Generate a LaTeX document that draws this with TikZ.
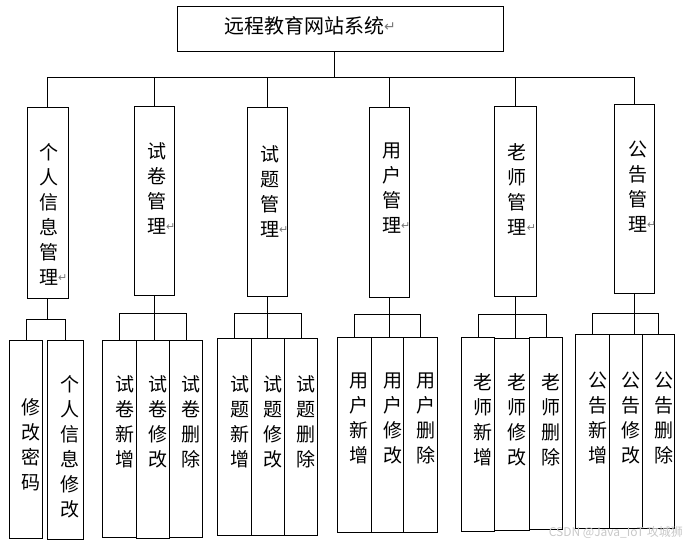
\documentclass[tikz,border=0pt]{standalone}
\usepackage{fontspec}
\usepackage{xcolor}
\usepackage{tikz}
\usetikzlibrary{calc}
\setmainfont{Noto Sans CJK SC}
\newfontfamily\symfont{DejaVu Sans}
\definecolor{retgray}{RGB}{120,120,120}
\definecolor{markgray}{RGB}{200,200,200}
\newcommand\retmark[2]{\raisebox{#2pt}{\symfont\fontsize{#1}{#1}\selectfont\color{retgray}\char"21B5}}

\begin{document}
\begin{tikzpicture}[x=1pt, y=-1pt,
  box/.style={draw, line width=1pt, inner sep=0pt},
  conn/.style={line width=1pt},
  vtext/.style={font=\fontsize{19}{25}\selectfont, align=center, anchor=north, inner sep=0pt}]
% Module tree of the site: root box, six module columns, leaf columns.
% Coordinates are pixels of the sketch, y runs downwards.
% \blk{name}{x}{y}{w}{h}{text dx}{text dy}{text}
\def\blk#1#2#3#4#5#6#7#8{%
  \node[box, anchor=north west, minimum width=#4pt, minimum height=#5pt] (#1) at (#2,#3) {};
  \node[vtext] (#1t) at ([xshift=#6pt, yshift=-#7pt]#1.north) {#8};}
\useasboundingbox (0,0) rectangle (686,549);
% Root
\node[box, anchor=north west, minimum width=325.4pt, minimum height=45pt] (root) at (177.3,6) {};
\node[font=\fontsize{20}{20}\selectfont, anchor=west, inner sep=0pt] (title) at (224,26)
  {远程教育网站系统\retmark{14}{2}};
% Modules
\blk{m1}{26.7}{107}{41}{191}{1}{36}{个\\人\\信\\息\\管\\理\rlap{\retmark{11}{3}}}
\blk{m2}{134}{106}{40}{189}{2}{36}{试\\卷\\管\\理\rlap{\retmark{11}{3}}}
\blk{m3}{247}{107}{40}{189}{2}{38}{试\\题\\管\\理\rlap{\retmark{11}{3}}}
\blk{m4}{369.3}{107}{39.4}{190}{2}{36}{用\\户\\管\\理\rlap{\retmark{11}{3}}}
\blk{m5}{494.3}{106}{42}{190}{1.5}{37}{老\\师\\管\\理\rlap{\retmark{11}{3}}}
\blk{m6}{614.3}{104}{40}{189}{2.7}{37}{公\\告\\管\\理\rlap{\retmark{11}{3}}}
% Leaves
\blk{m1a}{9.3}{340}{32.4}{198}{4.5}{58}{修\\改\\密\\码}
\blk{m1b}{47.3}{340}{36}{199}{4}{35}{个\\人\\信\\息\\修\\改}
\blk{m2a}{102.3}{340}{33.4}{197}{5}{35}{试\\卷\\新\\增}
\blk{m2b}{135.7}{340}{33.6}{198}{5}{35}{试\\卷\\修\\改}
\blk{m2c}{169.3}{340}{33}{197}{5}{35}{试\\卷\\删\\除}
\blk{m3a}{217.3}{338}{33.4}{197}{5}{37}{试\\题\\新\\增}
\blk{m3b}{250.7}{338}{33.6}{197}{5}{37}{试\\题\\修\\改}
\blk{m3c}{284.3}{338}{33}{197}{5}{37}{试\\题\\删\\除}
\blk{m4a}{336.7}{337}{34}{195}{5}{36}{用\\户\\新\\增}
\blk{m4b}{370.7}{337}{32.6}{195}{5}{36}{用\\户\\修\\改}
\blk{m4c}{403.3}{337}{33.4}{195}{5}{36}{用\\户\\删\\除}
\blk{m5a}{461.3}{337}{33}{194}{5}{36}{老\\师\\新\\增}
\blk{m5b}{494.3}{338}{34.4}{192}{5}{35}{老\\师\\修\\改}
\blk{m5c}{528.7}{337}{33.6}{192}{5}{36}{老\\师\\删\\除}
\blk{m6a}{575.3}{334}{34}{194}{5}{38}{公\\告\\新\\增}
\blk{m6b}{609.3}{334}{32.4}{194}{5}{38}{公\\告\\修\\改}
\blk{m6c}{641.7}{334}{32.6}{194}{5}{38}{公\\告\\删\\除}
% Root to modules
\coordinate (bus) at (334.5,77);
\draw[conn] (bus |- root.south) -- (bus);
\draw[conn] (m1.north |- bus) -- (m6.north |- bus);
\foreach \m in {m1,m2,m3,m4,m5,m6}
  \draw[conn] (\m.north |- bus) -- (\m.north);
% Modules to leaves
\coordinate (s1) at (0,319);
\draw[conn] (m1.south) -- (m1.south |- s1);
\draw[conn] (m1a.north) -- (m1a.north |- s1) -| (m1b.north);
\foreach \m/\y in {m2/313, m3/313, m4/314, m5/314, m6/313} {
  \coordinate (s\m) at (0,\y);
  \draw[conn] (\m a.north) -- (\m a.north |- s\m) -| (\m c.north);
  \draw[conn] (\m.south) -- (\m.south |- \m b.north);
}
\node[font=\fontsize{12}{12}\selectfont, text=markgray, anchor=east, inner sep=0pt] (mark)
  at (683,532) {CSDN @Java\_IoT 攻城狮};
\end{tikzpicture}
\end{document}
